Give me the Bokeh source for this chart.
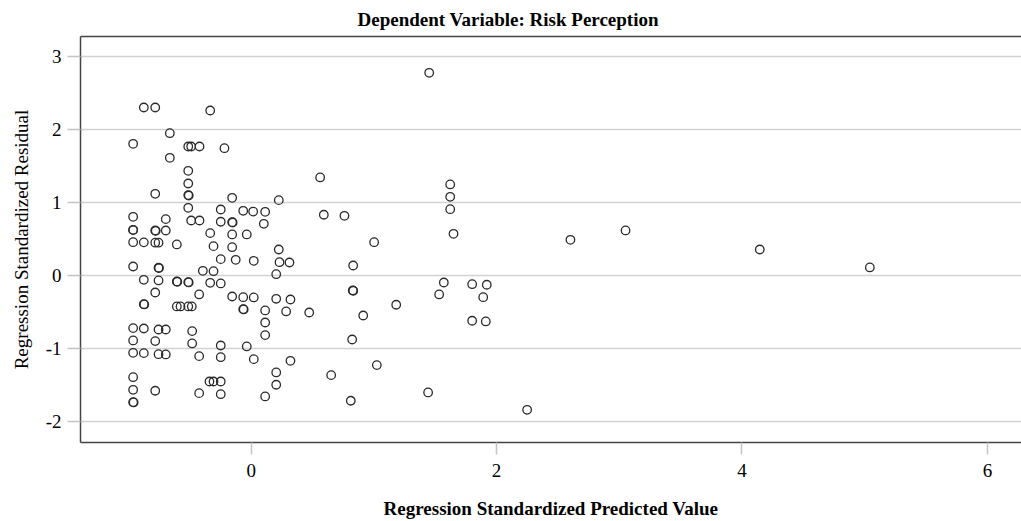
from bokeh.plotting import figure
from bokeh.models import Range1d, FixedTicker, LinearAxis, ColumnDataSource
from bokeh.embed import file_html
from bokeh.resources import INLINE

# Regression Standardized Predicted Value
pred = [
    -0.875, -0.782, -0.334, -0.663, -0.962, -0.513, -0.489, -0.421, -0.218, -0.663,
    -0.513, -0.513, -0.513, -0.509, -0.782, -0.155, 0.225, 0.562, -0.513, -0.962,
    -0.696, -0.248, -0.065, 0.016, 0.114, -0.489, -0.421, -0.248, -0.155, -0.151,
    0.103, -0.962, -0.962, -0.782, -0.778, -0.696, -0.334, -0.155, -0.036, -0.962,
    -0.875, -0.782, -0.755, -0.606, -0.307, -0.155, 0.225, -0.248, -0.126, 0.021,
    0.231, 0.312, -0.962, -0.755, -0.751, -0.394, -0.307, 0.204, -0.875, -0.755,
    -0.606, -0.602, -0.513, -0.509, -0.334, -0.248, -0.424, -0.782, -0.155, -0.065,
    0.021, 0.204, 0.320, -0.875, -0.871, -0.606, -0.576, -0.513, -0.484, -0.065,
    -0.061, 0.114, 0.285, 0.473, 0.114, -0.962, -0.875, -0.755, -0.696, -0.481,
    0.114, -0.962, -0.782, -0.481, -0.248, -0.036, -0.962, -0.875, -0.755, -0.696,
    -0.424, -0.248, 0.021, 0.320, -0.962, 0.204, -0.340, -0.307, -0.248, 0.204,
    -0.962, -0.782, -0.424, -0.248, 0.114, -0.962, -0.958, 1.451, 1.622, 1.622,
    1.622, 0.592, 0.760, 1.649, 1.002, 0.831, 1.570, 1.801, 1.920, 0.828,
    0.832, 1.532, 1.891, 1.182, 0.913, 1.801, 1.912, 0.823, 1.024, 0.652,
    1.442, 0.812, 2.249, 2.602, 3.051, 4.145, 5.042,
]
# Regression Standardized Residual
resid = [
    2.305, 2.305, 2.264, 1.953, 1.808, 1.771, 1.771, 1.771, 1.748, 1.616,
    1.438, 1.264, 1.105, 1.100, 1.123, 1.068, 1.036, 1.347, 0.931, 0.808,
    0.776, 0.908, 0.890, 0.880, 0.876, 0.757, 0.757, 0.740, 0.735, 0.730,
    0.712, 0.630, 0.625, 0.620, 0.616, 0.620, 0.584, 0.566, 0.566, 0.460,
    0.458, 0.453, 0.453, 0.429, 0.406, 0.392, 0.360, 0.228, 0.219, 0.205,
    0.186, 0.182, 0.127, 0.110, 0.106, 0.068, 0.063, 0.022, -0.055, -0.064,
    -0.078, -0.082, -0.087, -0.091, -0.096, -0.105, -0.256, -0.229, -0.284, -0.293,
    -0.297, -0.315, -0.325, -0.389, -0.393, -0.420, -0.420, -0.420, -0.420, -0.457,
    -0.461, -0.475, -0.489, -0.503, -0.640, -0.717, -0.722, -0.736, -0.736, -0.758,
    -0.813, -0.886, -0.895, -0.927, -0.955, -0.968, -1.055, -1.060, -1.074, -1.078,
    -1.101, -1.115, -1.142, -1.165, -1.389, -1.324, -1.448, -1.448, -1.448, -1.493,
    -1.562, -1.575, -1.608, -1.622, -1.653, -1.731, -1.735, 2.781, 1.251, 1.082,
    0.912, 0.836, 0.822, 0.575, 0.460, 0.141, -0.092, -0.115, -0.123, -0.201,
    -0.205, -0.256, -0.293, -0.397, -0.544, -0.616, -0.626, -0.873, -1.224, -1.361,
    -1.598, -1.712, -1.836, 0.493, 0.621, 0.360, 0.114,
]
x_ticks = [0, 2, 4, 6]
y_ticks = [-2, -1, 0, 1, 2, 3]
y_tick_labels = {-2: "-2", -1: "-1", 0: "0", 1: "1", 2: "2", 3: "3"}

FONT = "Liberation Serif"

p = figure(width=1021, height=521, output_backend="svg", toolbar_location=None,
           x_range=Range1d(-1.391, 6.278), y_range=Range1d(-2.284, 3.278),
           min_border_left=80, min_border_right=0, min_border_top=36, min_border_bottom=79,
           title="Dependent Variable: Risk Perception")
p.outline_line_color = None
p.background_fill_color = "white"
p.border_fill_color = "white"

p.title.text_font = FONT
p.title.text_font_style = "bold"
p.title.text_font_size = "19px"
p.title.align = "left"
p.title.offset = 277
p.title.standoff = 13
p.title.text_color = "black"

p.xgrid.visible = False
p.ygrid.ticker = FixedTicker(ticks=y_ticks)
p.ygrid.grid_line_color = "#d2d2d2"
p.ygrid.grid_line_width = 1.5

p.xaxis.ticker = FixedTicker(ticks=x_ticks)
p.yaxis.ticker = FixedTicker(ticks=y_ticks)
p.yaxis.major_label_overrides = y_tick_labels
for ax in (p.xaxis[0], p.yaxis[0]):
    ax.axis_line_color = "#444444"
    ax.axis_line_width = 1.5
    ax.major_tick_line_color = "#c4c4c4"
    ax.major_tick_line_width = 1.5
    ax.major_tick_in = 0
    ax.minor_tick_line_color = None
    ax.major_label_text_font = FONT
    ax.major_label_text_font_size = "19px"
    ax.major_label_text_color = "black"
    ax.axis_label_text_font = FONT
    ax.axis_label_text_color = "black"

p.xaxis.major_tick_out = 12
p.xaxis.major_label_standoff = 9
p.xaxis.axis_label = "Regression Standardized Predicted Value"
p.xaxis.axis_label_text_font_style = "bold"
p.xaxis.axis_label_text_font_size = "19px"
p.xaxis.axis_label_standoff = 18

p.yaxis.major_tick_out = 13
p.yaxis.major_label_standoff = 6
p.yaxis.axis_label = "Regression Standardized Residual"
p.yaxis.axis_label_text_font_style = "normal"
p.yaxis.axis_label_text_font_size = "19px"
p.yaxis.axis_label_standoff = 11

top = LinearAxis(ticker=FixedTicker(ticks=[]), axis_line_color="#444444", axis_line_width=1.5,
                 major_tick_line_color=None, minor_tick_line_color=None)
p.add_layout(top, "above")

src = ColumnDataSource(data=dict(x=pred, y=resid))
p.scatter("x", "y", source=src, marker="circle", size=8.5, fill_color=None,
          line_color="#2a2a2a", line_width=1.3)

open("out.html", "w").write(file_html(p, INLINE))
